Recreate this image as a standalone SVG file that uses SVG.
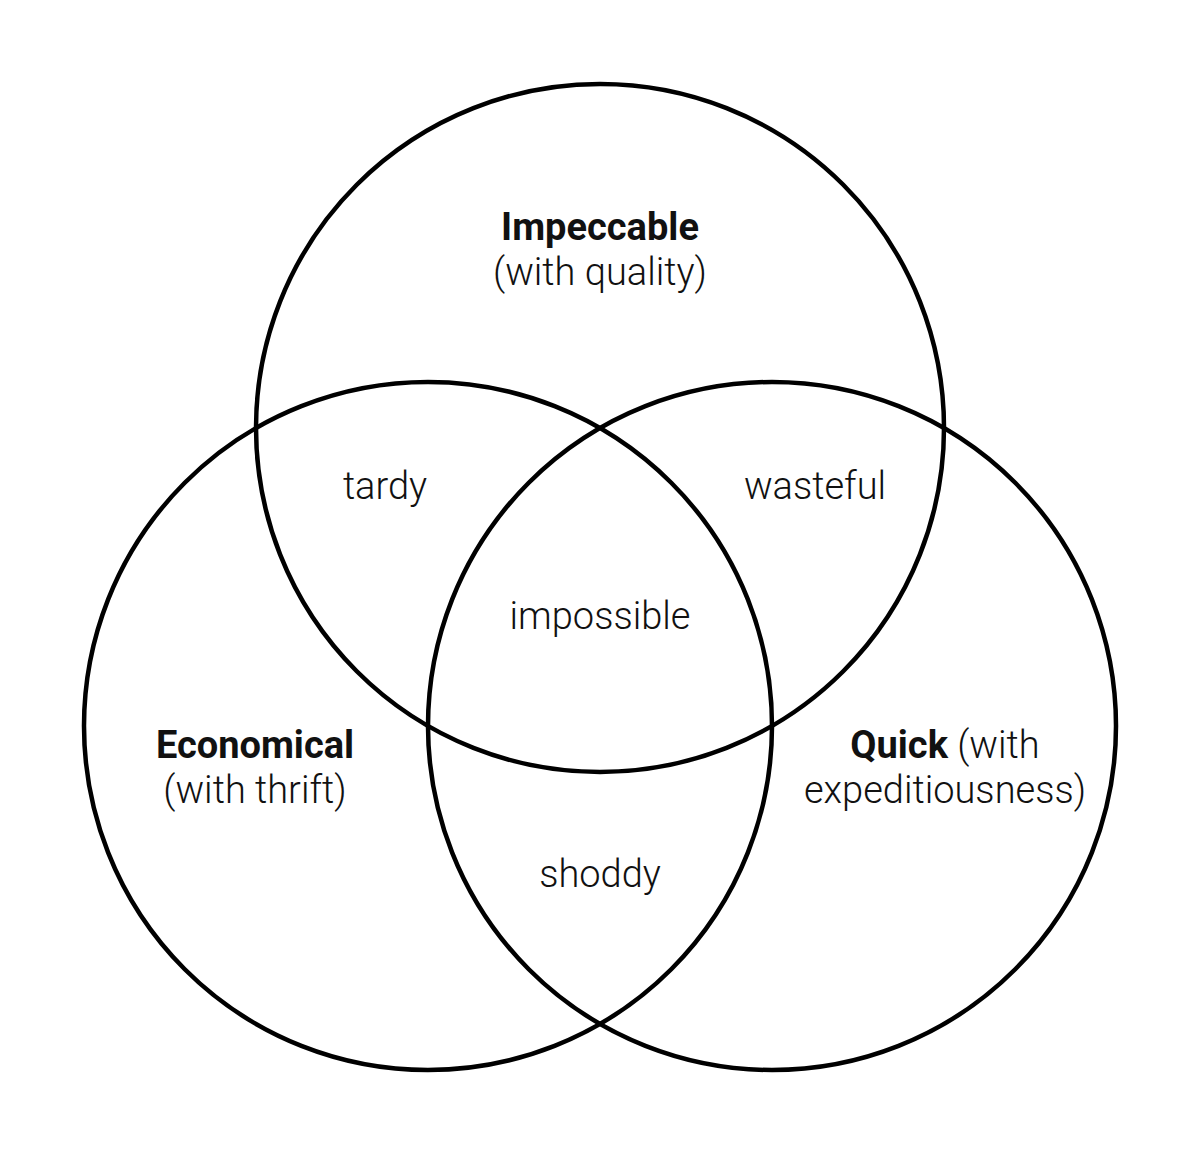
<svg xmlns="http://www.w3.org/2000/svg" width="1200" height="1156" viewBox="0 0 1200 1156">
<style>
.c{fill:none;stroke:#000;stroke-width:4.5}
text{font-family:Roboto,"Liberation Sans",sans-serif;font-size:38px;font-weight:300;fill:#111;text-anchor:middle}
.b{font-weight:700}
</style>
<rect width="1200" height="1156" fill="#fff"/>
<g id="circles">
<circle id="impeccable" class="c" cx="600" cy="428" r="344"/>
<circle id="economical" class="c" cx="428" cy="726" r="344"/>
<circle id="quick" class="c" cx="772" cy="726" r="344"/>
</g>
<g id="labels">
<g id="label-impeccable"><text x="600" y="240" class="b">Impeccable</text><text x="600" y="285">(with quality)</text></g>
<g id="label-economical"><text x="255" y="758" class="b">Economical</text><text x="255" y="803">(with thrift)</text></g>
<g id="label-quick"><text x="945" y="758"><tspan class="b">Quick</tspan> (with</text><text x="945" y="803">expeditiousness)</text></g>
<text id="tardy" x="385" y="499">tardy</text>
<text id="wasteful" x="815" y="499">wasteful</text>
<text id="impossible" x="600" y="629">impossible</text>
<text id="shoddy" x="600" y="887">shoddy</text>
</g>
</svg>
